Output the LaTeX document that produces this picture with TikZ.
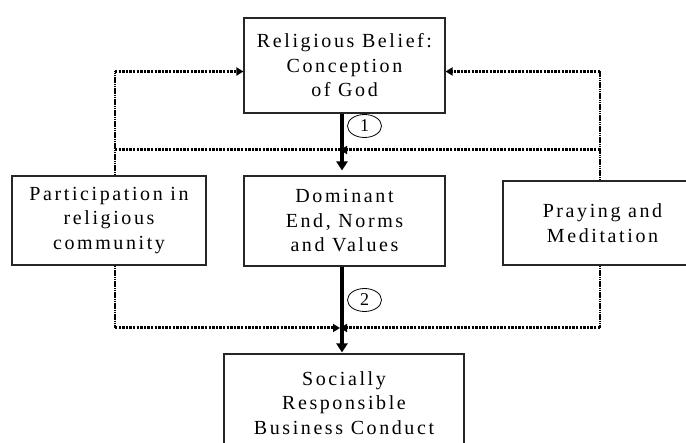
\documentclass[tikz,border=0pt]{standalone}
\usepackage{fontspec}
\setmainfont{Liberation Serif}
\newfontfamily\boxfont[LetterSpace=13]{Liberation Serif}
\newcommand\boxtext{\boxfont\fontsize{20}{24.5}\selectfont}
\usetikzlibrary{arrows.meta,shapes.geometric}
\tikzset{
  box/.style={draw=black!85, line width=1.1pt, align=center, font=\boxtext, inner sep=0pt},
  doth/.style={line width=3pt, dash pattern=on 2.4pt off 1.2pt},
  dotv/.style={line width=1.8pt, dash pattern=on 1.6pt off 0.6pt},
  dtip/.style={-{Triangle[width=8pt,length=7pt]}},
  strong/.style={line width=4pt, -{Triangle[width=11pt,length=9pt]}},
  num/.style={draw, ellipse, line width=0.8pt, minimum width=34pt, minimum height=23pt, inner sep=0pt, font=\fontsize{18}{18}\selectfont}
}
\begin{document}
\begin{tikzpicture}[x=1pt,y=-1pt]
\useasboundingbox (0,0) rectangle (686,443);
\clip (0,0) rectangle (686,443);
% boxes
\node[box, minimum width=201pt, minimum height=95pt] (top) at (344.5,65.5) {Religious Belief:\\Conception\\of God};
\node[box, minimum width=194pt, minimum height=89pt] (left) at (109,220.5) {Participation in\\religious\\community};
\node[box, minimum width=201pt, minimum height=90pt] (mid) at (344.5,221) {Dominant\\End, Norms\\and Values};
\node[box, minimum width=199pt, minimum height=84pt] (right) at (602.5,223) {Praying and\\Meditation};
\node[box, minimum width=240pt, minimum height=98pt] (bottom) at (344,403) {Socially\\Responsible\\Business Conduct};
% helper coordinates
\coordinate (lx) at (115,0);
\coordinate (rx) at (600,0);
\coordinate (cx) at (342,0);
\coordinate (ty) at (0,71.5);
\coordinate (m1) at (0,150);
\coordinate (m2) at (0,328);
% main thick arrows
\draw[strong, shorten >=5pt] (cx |- top.south) -- (cx |- mid.north);
\draw[strong, shorten >=1pt] (cx |- mid.south) -- (cx |- bottom.north);
% feedback to top box
\draw[dotv] (lx |- left.north) -- (lx |- ty);
\draw[doth, dtip] (lx |- ty) -- (top.west |- ty);
\draw[dotv] (rx |- right.north) -- (rx |- ty);
\draw[doth, dtip] (rx |- ty) -- (top.east |- ty);
% middle line into arrow 1
\draw[doth] (lx |- m1) -- (cx |- m1);
\draw[doth, dtip, shorten >=-2pt] (rx |- m1) -- (cx |- m1);
% lower line into arrow 2
\draw[dotv] (lx |- left.south) -- (lx |- m2);
\draw[dotv] (rx |- right.south) -- (rx |- m2);
\draw[doth, dtip, shorten >=2pt] (lx |- m2) -- (cx |- m2);
\draw[doth, dtip, shorten >=-2pt] (rx |- m2) -- (cx |- m2);
% labels
\node[num] (n1) at (364.5,126) {1};
\node[num] (n2) at (364.5,300) {2};
\end{tikzpicture}
\end{document}
